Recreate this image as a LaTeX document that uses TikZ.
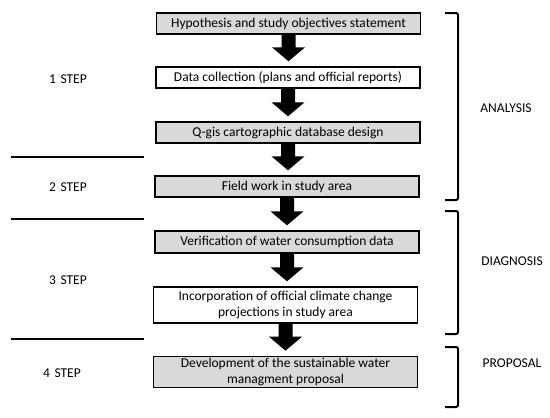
\documentclass[tikz,border=0pt]{standalone}
\usepackage{fontspec}
\setmainfont{Carlito}
\usetikzlibrary{calc}
\definecolor{boxgray}{HTML}{D9D9D9}
\tikzset{
  stepbox/.style={draw=black, line width=1.4pt, minimum width=264pt, align=center, inner sep=2pt, font=\fontsize{13.5}{15.5}\selectfont},
  grayfill/.style={fill=boxgray},
  lbl/.style={font=\fontsize{13.5}{15}\selectfont},
  sepline/.style={line width=2pt},
  brk/.style={line width=2pt, rounded corners=2pt},
}
\newcommand\blockarr[2]{%
  \fill let \p1=(#1.south), \p2=(#2.north) in
    (\x1-7pt,\y1) -- (\x1-7pt,\y2+19pt) -- (\x1-16.5pt,\y2+19pt) -- (\x1,\y2+5pt)
    -- (\x1+16.5pt,\y2+19pt) -- (\x1+7pt,\y2+19pt) -- (\x1+7pt,\y1) -- cycle;}
\begin{document}
\begin{tikzpicture}[x=1pt,y=-1pt]
\useasboundingbox (0,0) rectangle (550,418);
\node[stepbox,grayfill,minimum height=21pt] (b1) at (288.5,23.5) {Hypothesis and study objectives statement};
\node[stepbox,minimum height=21pt] (b2) at (288,77.5) {Data collection (plans and official reports)};
\node[stepbox,grayfill,minimum height=21pt] (b3) at (288,132.5) {Q-gis cartographic database design};
\node[stepbox,grayfill,minimum height=21pt] (b4) at (287,186.5) {Field work in study area};
\node[stepbox,grayfill,minimum height=22pt] (b5) at (287,242) {Verification of water consumption data};
\node[stepbox,minimum height=36pt] (b6) at (285.5,305) {Incorporation of official climate change\\projections in study area};
\node[stepbox,grayfill,minimum height=30pt] (b7) at (285.5,372) {Development of the sustainable water\\managment proposal};
\blockarr{b1}{b2}
\blockarr{b2}{b3}
\blockarr{b3}{b4}
\blockarr{b4}{b5}
\blockarr{b5}{b6}
\blockarr{b6}{b7}
% step labels
\node[lbl] (s1) at (68,79) {1\,\,STEP};
\node[lbl] (s2) at (68,187) {2\,\,STEP};
\node[lbl] (s3) at (68,280) {3\,\,STEP};
\node[lbl] (s4) at (62,373) {4\,\,STEP};
% separator lines
\coordinate (l1a) at (11,157); \coordinate (l1b) at (144,157);
\coordinate (l2a) at (11,219); \coordinate (l2b) at (144,219);
\coordinate (l3a) at (11,339); \coordinate (l3b) at (144,339);
\draw[sepline] (l1a) -- (l1b);
\draw[sepline] (l2a) -- (l2b);
\draw[sepline] (l3a) -- (l3b);
% brackets
\coordinate (k1a) at (445,13); \coordinate (k1b) at (445,200);
\coordinate (k2a) at (445,211); \coordinate (k2b) at (445,334);
\coordinate (k3a) at (445,347); \coordinate (k3b) at (445,407);
\draw[brk] (k1a) -- ++(13,0) |- (k1b);
\draw[brk] (k2a) -- ++(13,0) |- (k2b);
\draw[brk] (k3a) -- ++(13,0) |- (k3b);
\node[lbl] (p1) at (506,108) {ANALYSIS};
\node[lbl] (p2) at (512,261) {DIAGNOSIS};
\node[lbl] (p3) at (512,363) {PROPOSAL};
\end{tikzpicture}
\end{document}
